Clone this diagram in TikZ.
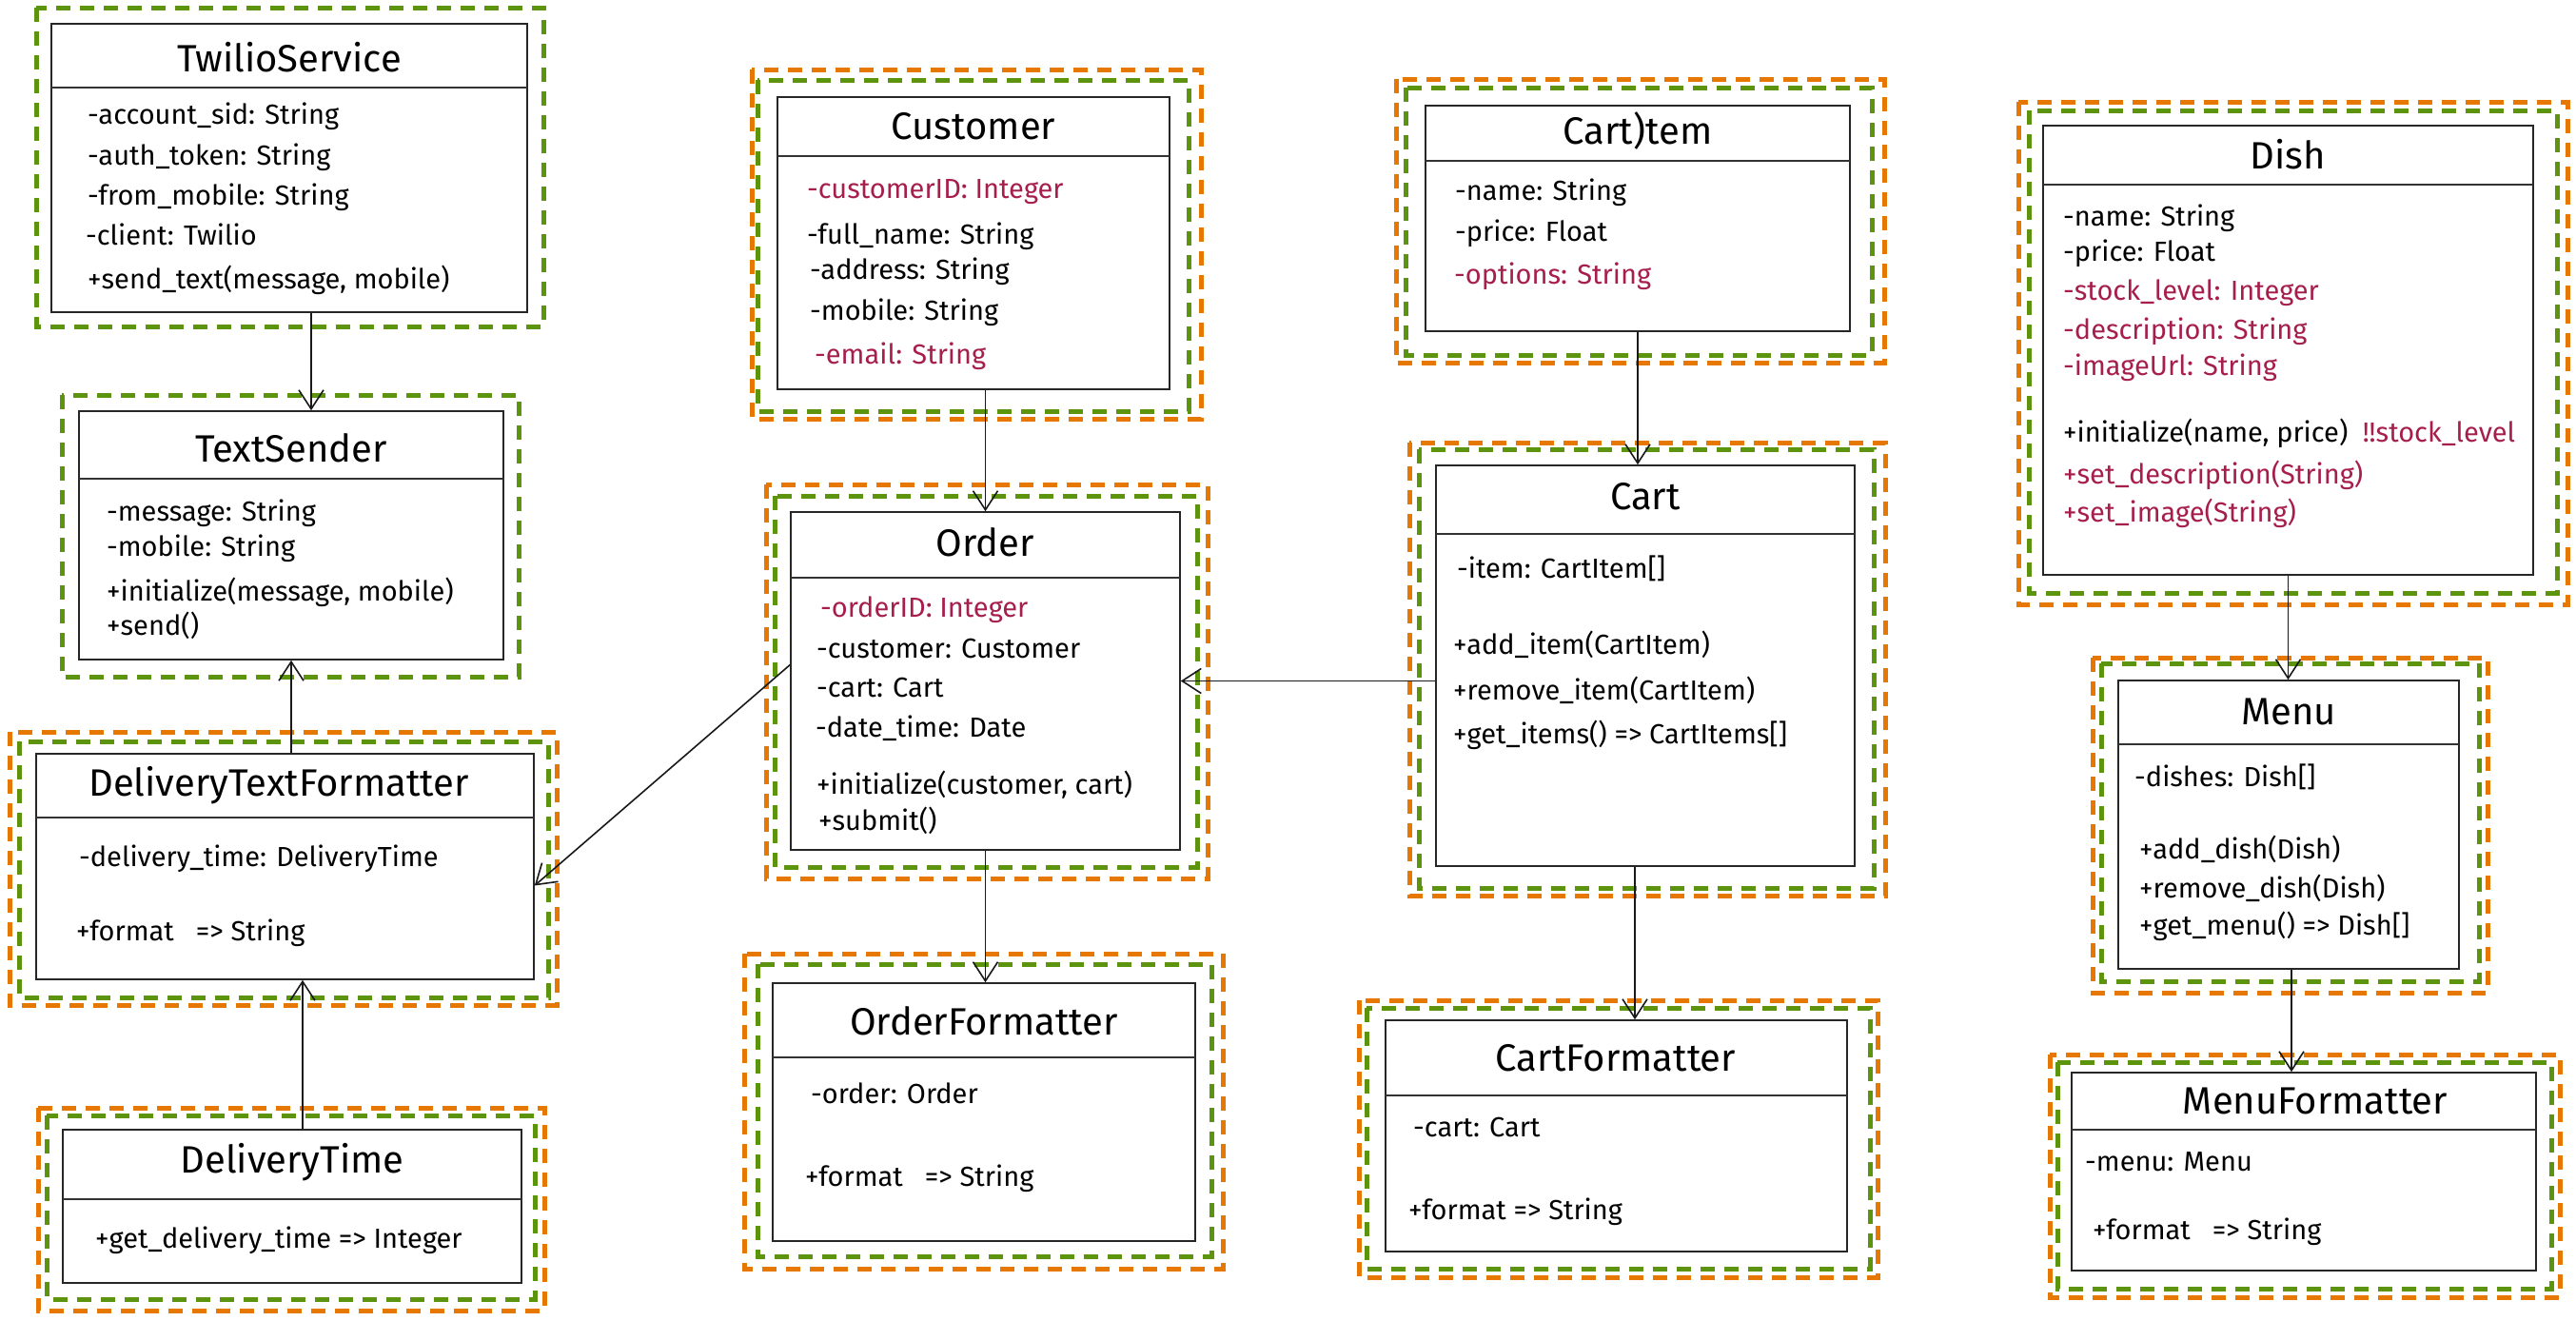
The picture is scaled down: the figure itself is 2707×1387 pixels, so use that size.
\documentclass[tikz,border=0pt]{standalone}
\usepackage{fontspec}
\setmainfont{Fira Sans}
\usetikzlibrary{arrows.meta}
\usetikzlibrary{fit}
\definecolor{framegreen}{HTML}{5C940D}
\definecolor{frameorange}{HTML}{E67700}
\definecolor{newattr}{HTML}{A61E4D}
\tikzset{classbox/.style={draw=black!85, line width=1.6pt, inner sep=0pt}}
\tikzset{divider/.style={draw=black!80, line width=1.6pt}}
\tikzset{greenframe/.style={draw=framegreen, line width=5pt, dash pattern=on 15pt off 10pt}}
\tikzset{orangeframe/.style={draw=frameorange, line width=5pt, dash pattern=on 15pt off 10pt}}
\tikzset{cname/.style={font=\fontsize{40}{44}\selectfont}}
\tikzset{attr/.style={anchor=west, inner sep=0pt, font=\fontsize{29}{32}\selectfont}}
\tikzset{newer/.style={attr, text=newattr}}
\tikzset{assoc/.style={-{Straight Barb[length=20pt, width=26pt]}, line width=1.6pt, draw=black!90}}

\begin{document}
\begin{tikzpicture}[x=1pt, y=-1pt]
  \useasboundingbox (0, 0) rectangle (2707, 1387);

  % TwilioService
  \draw [greenframe] (38, 8) rectangle (571, 343);
  \node [classbox, fit={(54, 25) (554, 328)}] (twilio) {};
  \draw [divider] (54, 92) -- (554, 92);
  \node [cname] (twilio-name) at (304, 60) {TwilioService};
  \node [attr] (twilio-a1) at (92, 122) {-account\_sid: String};
  \node [attr] (twilio-a2) at (92, 165) {-auth\_token: String};
  \node [attr] (twilio-a3) at (92, 207) {-from\_mobile: String};
  \node [attr] (twilio-a4) at (90, 246) {-client: Twilio};
  \node [attr] (twilio-m1) at (92, 294) {+send\_text(message, mobile)};

  % TextSender
  \draw [greenframe] (65, 415) rectangle (545, 711);
  \node [classbox, fit={(83, 432) (529, 693)}] (textsender) {};
  \draw [divider] (83, 503) -- (529, 503);
  \node [cname] (textsender-name) at (306, 471) {TextSender};
  \node [attr] (textsender-a1) at (112, 539) {-message: String};
  \node [attr] (textsender-a2) at (112, 576) {-mobile: String};
  \node [attr] (textsender-m1) at (112, 622) {+initialize(message, mobile)};
  \node [attr] (textsender-m2) at (112, 657) {+send()};

  % DeliveryTextFormatter
  \draw [orangeframe] (10, 769) rectangle (585, 1056);
  \draw [greenframe] (20, 779) rectangle (576, 1048);
  \node [classbox, fit={(38, 792) (561, 1029)}] (dtf) {};
  \draw [divider] (38, 859) -- (561, 859);
  \node [cname] (dtf-name) at (293, 825) {DeliveryTextFormatter};
  \node [attr] (dtf-a1) at (83, 902) {-delivery\_time: DeliveryTime};
  \node [attr] (dtf-m1) at (80, 980) {+format\ \ \ => String};

  % DeliveryTime
  \draw [orangeframe] (40, 1164) rectangle (572, 1377);
  \draw [greenframe] (49, 1172) rectangle (562, 1365);
  \node [classbox, fit={(66, 1187) (548, 1348)}] (dtime) {};
  \draw [divider] (66, 1260) -- (548, 1260);
  \node [cname] (dtime-name) at (307, 1221) {DeliveryTime};
  \node [attr] (dtime-m1) at (100, 1303) {+get\_delivery\_time => Integer};

  % Customer
  \draw [orangeframe] (790, 73) rectangle (1262, 440);
  \draw [greenframe] (796, 84) rectangle (1249, 432);
  \node [classbox, fit={(817, 102) (1229, 409)}] (customer) {};
  \draw [divider] (817, 164) -- (1229, 164);
  \node [cname] (customer-name) at (1023, 133) {Customer};
  \node [newer] (customer-a1) at (848, 202) {-customerID: Integer};
  \node [attr] (customer-a2) at (848, 248) {-full\_name: String};
  \node [attr] (customer-a3) at (851, 285) {-address: String};
  \node [attr] (customer-a4) at (851, 328) {-mobile: String};
  \node [newer] (customer-a5) at (856, 374) {-email: String};

  % Order
  \draw [orangeframe] (805, 509) rectangle (1269, 923);
  \draw [greenframe] (814, 521) rectangle (1258, 911);
  \node [classbox, fit={(831, 538) (1240, 893)}] (order) {};
  \draw [divider] (831, 607) -- (1240, 607);
  \node [cname] (order-name) at (1035, 570) {Order};
  \node [newer] (order-a1) at (862, 641) {-orderID: Integer};
  \node [attr] (order-a2) at (858, 681) {-customer: Customer};
  \node [attr] (order-a3) at (858, 722) {-cart: Cart};
  \node [attr] (order-a4) at (857, 765) {-date\_time: Date};
  \node [attr] (order-m1) at (858, 825) {+initialize(customer, cart)};
  \node [attr] (order-m2) at (860, 862) {+submit()};

  % Cart)tem
  \draw [orangeframe] (1467, 83) rectangle (1980, 381);
  \draw [greenframe] (1477, 92) rectangle (1967, 373);
  \node [classbox, fit={(1498, 111) (1944, 348)}] (cartitem) {};
  \draw [divider] (1498, 169) -- (1944, 169);
  \node [cname] (cartitem-name) at (1721, 137) {Cart)tem};
  \node [attr] (cartitem-a1) at (1529, 202) {-name: String};
  \node [attr] (cartitem-a2) at (1529, 245) {-price: Float};
  \node [newer] (cartitem-a3) at (1528, 290) {-options: String};

  % Cart
  \draw [orangeframe] (1481, 465) rectangle (1981, 941);
  \draw [greenframe] (1491, 472) rectangle (1969, 933);
  \node [classbox, fit={(1509, 489) (1949, 910)}] (cart) {};
  \draw [divider] (1509, 561) -- (1949, 561);
  \node [cname] (cart-name) at (1729, 522) {Cart};
  \node [attr] (cart-a1) at (1531, 597) {-item: CartItem[]};
  \node [attr] (cart-m1) at (1527, 677) {+add\_item(CartItem)};
  \node [attr] (cart-m2) at (1527, 725) {+remove\_item(CartItem)};
  \node [attr] (cart-m3) at (1527, 772) {+get\_items() => CartItems[]};

  % OrderFormatter
  \draw [orangeframe] (782, 1002) rectangle (1285, 1333);
  \draw [greenframe] (796, 1013) rectangle (1273, 1320);
  \node [classbox, fit={(812, 1033) (1256, 1304)}] (ofmt) {};
  \draw [divider] (812, 1111) -- (1256, 1111);
  \node [cname] (ofmt-name) at (1034, 1073) {OrderFormatter};
  \node [attr] (ofmt-a1) at (852, 1149) {-order: Order};
  \node [attr] (ofmt-m1) at (846, 1238) {+format\ \ \ => String};

  % CartFormatter
  \draw [orangeframe] (1428, 1051) rectangle (1973, 1342);
  \draw [greenframe] (1436, 1059) rectangle (1965, 1333);
  \node [classbox, fit={(1456, 1072) (1941, 1315)}] (cfmt) {};
  \draw [divider] (1456, 1151) -- (1941, 1151);
  \node [cname] (cfmt-name) at (1698, 1112) {CartFormatter};
  \node [attr] (cfmt-a1) at (1485, 1184) {-cart: Cart};
  \node [attr] (cfmt-m1) at (1480, 1273) {+format => String};

  % Dish
  \draw [orangeframe] (2121, 107) rectangle (2698, 635);
  \draw [greenframe] (2132, 116) rectangle (2687, 623);
  \node [classbox, fit={(2147, 132) (2662, 604)}] (dish) {};
  \draw [divider] (2147, 194) -- (2662, 194);
  \node [cname] (dish-name) at (2404, 162) {Dish};
  \node [attr] (dish-a1) at (2168, 229) {-name: String};
  \node [attr] (dish-a2) at (2168, 266) {-price: Float};
  \node [newer] (dish-a3) at (2168, 308) {-stock\_level: Integer};
  \node [newer] (dish-a4) at (2168, 348) {-description: String};
  \node [newer] (dish-a5) at (2168, 386) {-imageUrl: String};
  \node [attr] (dish-m1) at (2168, 455) {+initialize(name, price)\ \ \textcolor{newattr}{!!stock\_level}};
  \node [newer] (dish-m2) at (2168, 499) {+set\_description(String)};
  \node [newer] (dish-m3) at (2168, 539) {+set\_image(String)};

  % Menu
  \draw [orangeframe] (2199, 691) rectangle (2614, 1043);
  \draw [greenframe] (2208, 697) rectangle (2605, 1031);
  \node [classbox, fit={(2226, 715) (2584, 1018)}] (menu) {};
  \draw [divider] (2226, 782) -- (2584, 782);
  \node [cname] (menu-name) at (2405, 748) {Menu};
  \node [attr] (menu-a1) at (2243, 816) {-dishes: Dish[]};
  \node [attr] (menu-m1) at (2248, 892) {+add\_dish(Dish)};
  \node [attr] (menu-m2) at (2248, 933) {+remove\_dish(Dish)};
  \node [attr] (menu-m3) at (2248, 973) {+get\_menu() => Dish[]};

  % MenuFormatter
  \draw [orangeframe] (2154, 1108) rectangle (2690, 1363);
  \draw [greenframe] (2162, 1116) rectangle (2681, 1354);
  \node [classbox, fit={(2177, 1127) (2665, 1335)}] (mfmt) {};
  \draw [divider] (2177, 1187) -- (2665, 1187);
  \node [cname] (mfmt-name) at (2433, 1157) {MenuFormatter};
  \node [attr] (mfmt-a1) at (2191, 1221) {-menu: Menu};
  \node [attr] (mfmt-m1) at (2199, 1294) {+format\ \ \ => String};

  % associations
  \draw [assoc] ([xshift=23pt]twilio.south) -- ([xshift=21pt]textsender.north);
  \draw [assoc] ([xshift=6.5pt]dtf.north) -- (textsender.south);
  \draw [assoc] ([xshift=11pt]dtime.north) -- ([xshift=18.5pt]dtf.south);
  \draw [assoc] (customer.south -| order.north) -- (order.north);
  \draw [assoc] ([yshift=17pt]order.west) -- ([yshift=-20pt]dtf.east);
  \draw [assoc] (order.east -| cart.west) -- (order.east);
  \draw [assoc] (cartitem.south) -- (cartitem.south |- cart.north);
  \draw [assoc] (order.south) -- (order.south |- ofmt.north);
  \draw [assoc] ([xshift=-11pt]cart.south) -- ([xshift=19.5pt]cfmt.north);
  \draw [assoc] (dish.south) -- (dish.south |- menu.north);
  \draw [assoc] ([xshift=3pt]menu.south) -- ([xshift=3pt]menu.south |- mfmt.north);
\end{tikzpicture}
\end{document}
